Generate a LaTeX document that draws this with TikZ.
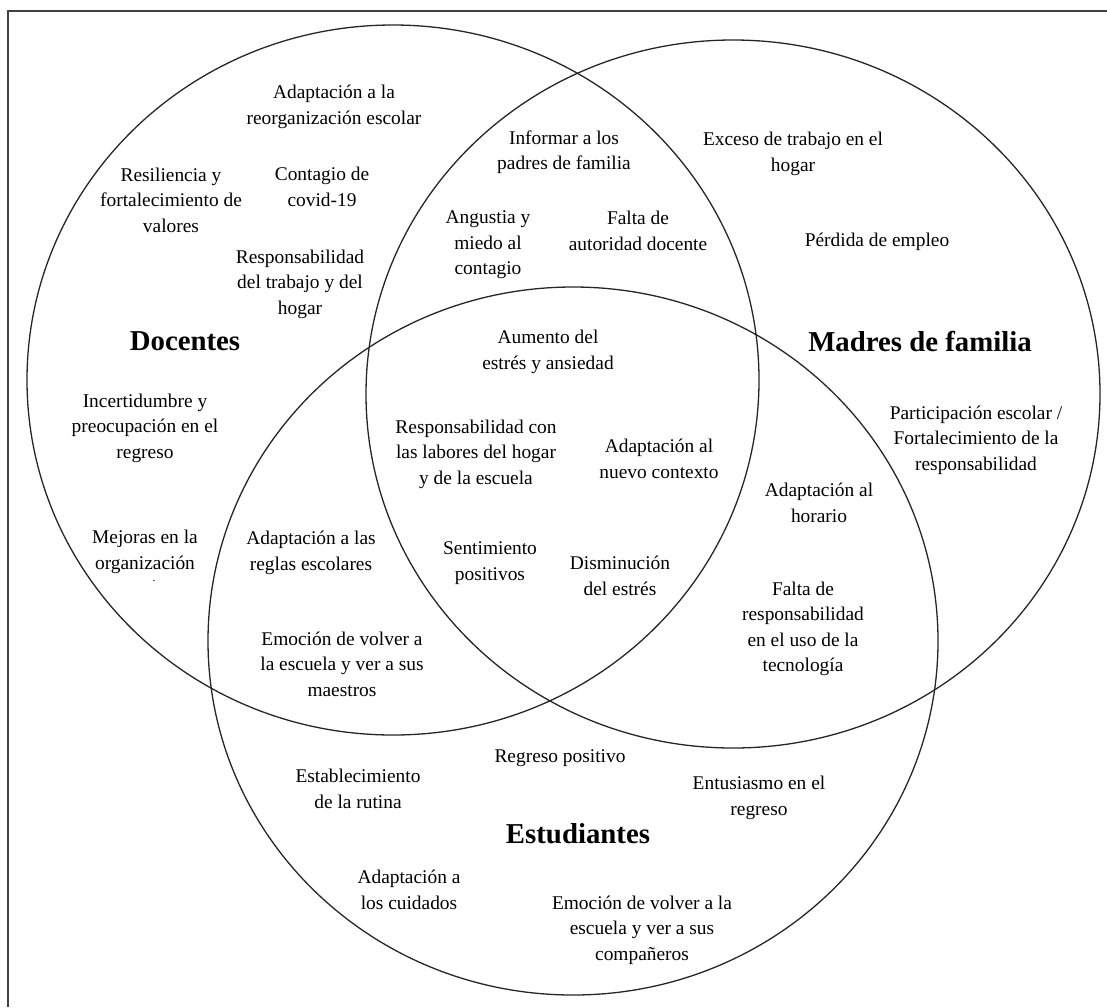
\documentclass[tikz,border=0pt]{standalone}
\usepackage{fontspec}
\setmainfont{Liberation Serif}
\begin{document}
\begin{tikzpicture}[x=1pt,y=-1pt,
  set/.style={draw=black!85,line width=1.3pt},
  item/.style={align=center,inner sep=0pt,font=\fontsize{19.4}{25.4}\selectfont},
  title/.style={align=center,inner sep=0pt,font=\fontsize{28.8}{32}\selectfont\bfseries}]
\useasboundingbox (0,0) rectangle (1107,1007);
% frame (top and left edges)
\draw[draw=black!75,line width=1.6pt] (1107,11) -- (8,11) -- (8,1007);
% set centres
\coordinate (cD) at (393,380);
\coordinate (cM) at (733,394);
\coordinate (cE) at (573,641);
\draw[set] (cD) ellipse [x radius=366,y radius=355];
\draw[set] (cM) ellipse [x radius=367,y radius=354];
\draw[set] (cE) ellipse [x radius=365,y radius=354];
% titles
\node[title] (tD) at (185,341) {Docentes};
\node[title] (tM) at (920,341) {Madres de familia};
\node[title] (tE) at (578,834) {Estudiantes};
% Docentes only
\node[item] (d1) at (334,107) {Adaptación a la\\reorganización escolar};
\node[item] (d2) at (171,200) {Resiliencia y\\fortalecimiento de\\valores};
\node[item] (d3) at (322,187) {Contagio de\\covid-19};
\node[item] (d4) at (300,284) {Responsabilidad\\del trabajo y del\\hogar};
\node[item] (d5) at (145,428) {Incertidumbre y\\preocupación en el\\regreso};
\node[item] (d6) at (145,552) {Mejoras en la\\organización};
\node[inner sep=0pt,font=\fontsize{12}{12}\selectfont] (d6b) at (154,581) {.};
% Docentes and Madres
\node[item] (dm1) at (564,152) {Informar a los\\padres de familia};
\node[item] (dm2) at (488,245) {Angustia y\\miedo al\\contagio};
\node[item] (dm3) at (638,231) {Falta de\\autoridad docente};
% Madres only
\node[item] (m1) at (793,154) {Exceso de trabajo en el\\hogar};
\node[item] (m2) at (877,242) {Pérdida de empleo};
\node[item] (m3) at (976,440) {Participación escolar /\\Fortalecimiento de la\\responsabilidad};
% all three
\node[item] (a1) at (548,352) {Aumento del\\estrés y ansiedad};
\node[item] (a2) at (476,454) {Responsabilidad con\\las labores del hogar\\y de la escuela};
\node[item] (a3) at (659,459) {Adaptación al\\nuevo contexto};
\node[item] (a4) at (490,563) {Sentimiento\\positivos};
\node[item] (a5) at (620,576) {Disminución\\del estrés};
% Docentes and Estudiantes
\node[item] (de1) at (311,553) {Adaptación a las\\reglas escolares};
\node[item] (de2) at (342,664) {Emoción de volver a\\la escuela y ver a sus\\maestros};
% Madres and Estudiantes
\node[item] (me1) at (819,503) {Adaptación al\\horario};
\node[item] (me2) at (803,629) {Falta de\\responsabilidad\\en el uso de la\\tecnología};
% Estudiantes only
\node[item] (e1) at (358,789) {Establecimiento\\de la rutina};
\node[item] (e2) at (560,758) {Regreso positivo};
\node[item] (e3) at (759,798) {Entusiasmo en el\\regreso};
\node[item] (e4) at (409,890) {Adaptación a\\los cuidados};
\node[item] (e5) at (642,930) {Emoción de volver a la\\escuela y ver a sus\\compañeros};
\end{tikzpicture}
\end{document}
